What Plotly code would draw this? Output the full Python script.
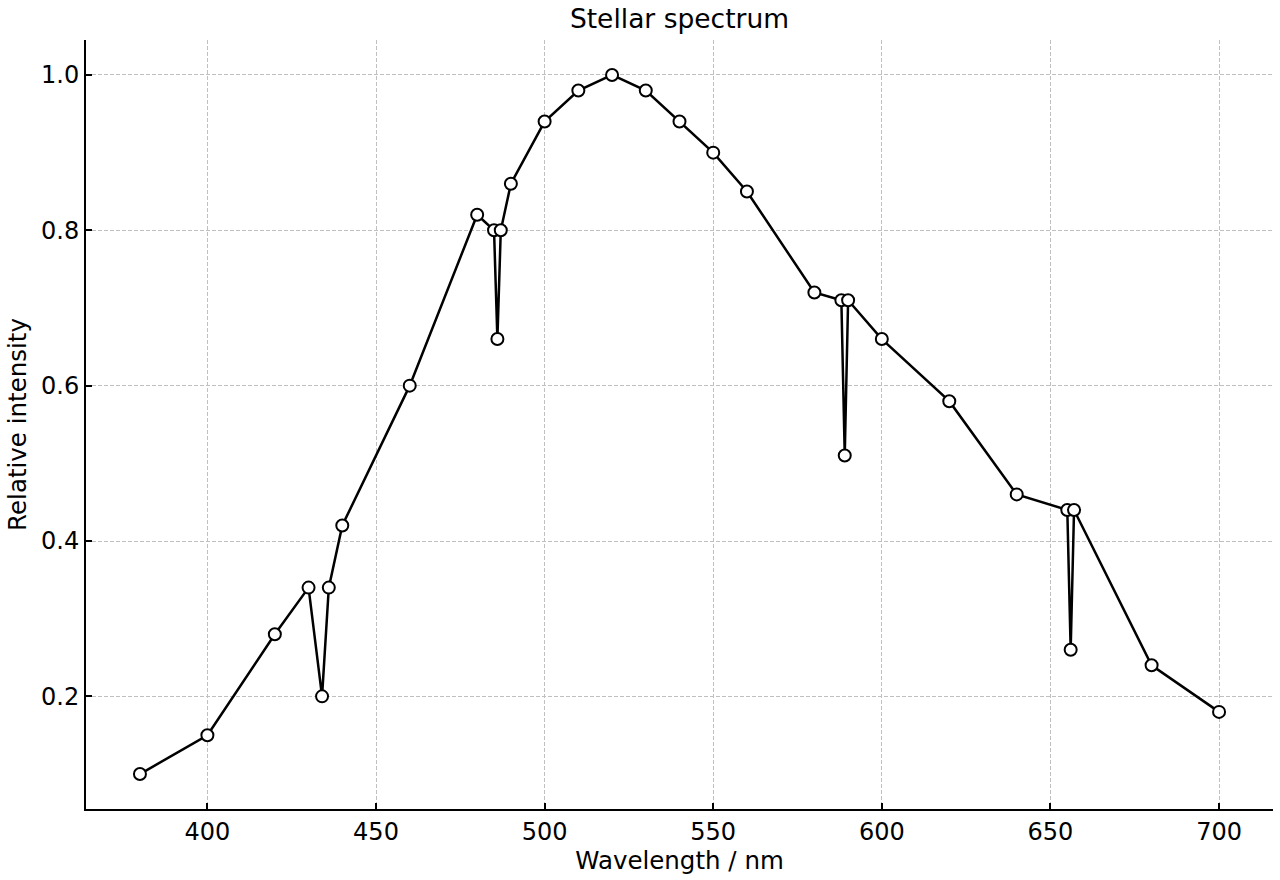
import plotly.graph_objects as go

wavelength = [380, 400, 420, 430, 434, 436, 440, 460, 480, 485, 486, 487, 490, 500, 510, 520,
              530, 540, 550, 560, 580, 588, 589, 590, 600, 620, 640, 655, 656, 657, 680, 700]
intensity = [0.10, 0.15, 0.28, 0.34, 0.20, 0.34, 0.42, 0.60, 0.82, 0.80, 0.66, 0.80, 0.86, 0.94, 0.98, 1.00,
             0.98, 0.94, 0.90, 0.85, 0.72, 0.71, 0.51, 0.71, 0.66, 0.58, 0.46, 0.44, 0.26, 0.44, 0.24, 0.18]
x_ticks = [400, 450, 500, 550, 600, 650, 700]
y_ticks = [0.2, 0.4, 0.6, 0.8, 1.0]

fig = go.Figure()
fig.add_trace(go.Scatter(
    x=wavelength, y=intensity, mode="lines+markers",
    line=dict(color="black", width=2.5),
    marker=dict(symbol="circle", size=12, color="white", line=dict(color="black", width=2)),
    showlegend=False,
))

font = "DejaVu Sans"
fig.update_layout(
    width=1280, height=880,
    margin=dict(l=86, r=7, t=40, b=71),
    paper_bgcolor="white", plot_bgcolor="white",
    font=dict(family=font, size=24, color="black"),
    title=dict(text="Stellar spectrum", xref="paper", x=0.5, xanchor="center",
               yref="container", y=0.979, yanchor="middle",
               font=dict(size=26.5, family=font)),
)
grid = dict(showgrid=True, gridcolor="#c0c0c0", gridwidth=1, griddash="4px,2px")
fig.update_xaxes(
    range=[364, 716], tickvals=x_ticks, ticktext=[str(v) for v in x_ticks],
    ticks="inside", ticklen=6, tickwidth=1.5, tickcolor="black",
    showline=True, linecolor="black", linewidth=2, mirror=False,
    zeroline=False,
    title=dict(text="Wavelength / nm", font=dict(size=24.5), standoff=6),
    tickfont=dict(size=24), **grid,
)
fig.update_yaxes(
    range=[0.055, 1.045], tickvals=y_ticks, ticktext=[f"{v:.1f}" for v in y_ticks],
    ticks="inside", ticklen=6, tickwidth=1.5, tickcolor="black",
    showline=True, linecolor="black", linewidth=2, mirror=False,
    zeroline=False,
    title=dict(text="Relative intensity", font=dict(size=24.5), standoff=7),
    tickfont=dict(size=24), **grid,
)

fig.write_html("out.html")
